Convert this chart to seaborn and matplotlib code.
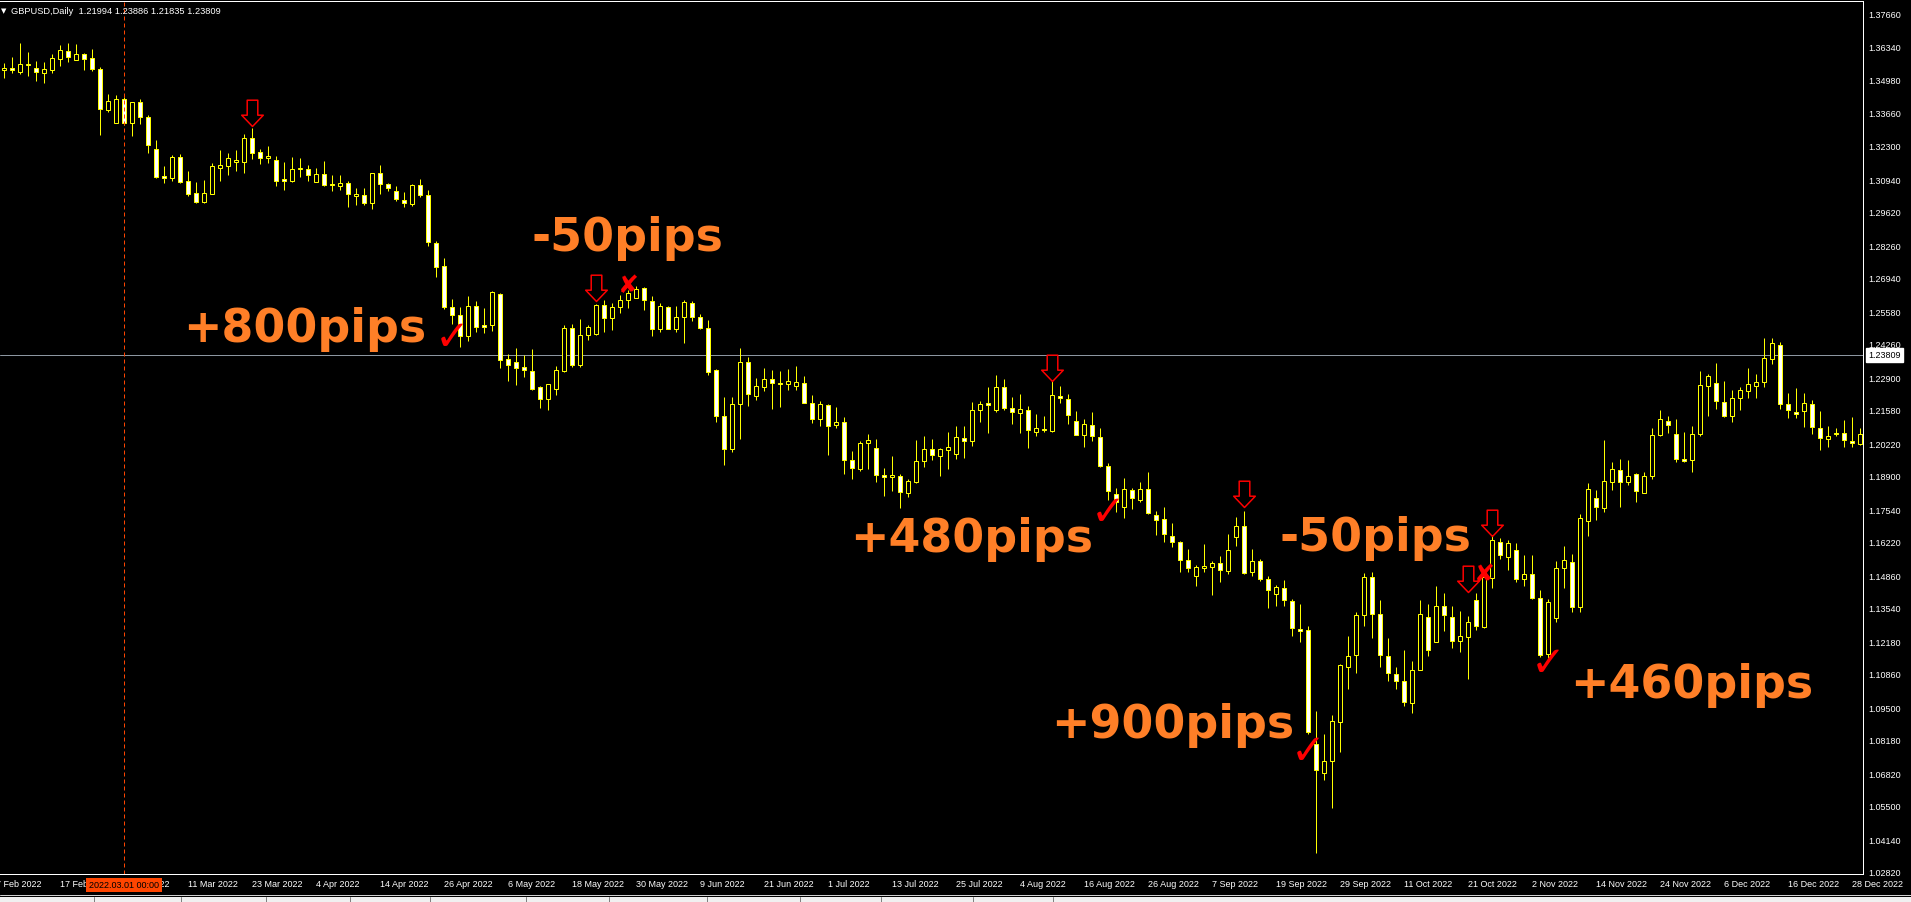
import matplotlib
matplotlib.use('Agg')
import matplotlib.pyplot as plt
from matplotlib.path import Path
from matplotlib.patches import Rectangle
from matplotlib.lines import Line2D
import numpy as np
import pandas as pd
import seaborn as sns

# GBPUSD daily bars, 8 Feb 2022 .. 29 Dec 2022
opens = [
    1.3537, 1.3546, 1.3532, 1.3558, 1.3546, 1.3526, 1.3540, 1.3584, 1.3615, 1.3580,
    1.3604, 1.3586, 1.3541, 1.3377, 1.3325, 1.3420, 1.3325, 1.3409, 1.3348, 1.3218,
    1.3108, 1.3101, 1.3185, 1.3087, 1.3038, 1.3004, 1.3036, 1.3142, 1.3150, 1.3166,
    1.3166, 1.3262, 1.3206, 1.3182, 1.3173, 1.3095, 1.3089, 1.3135, 1.3135, 1.3085,
    1.3115, 1.3076, 1.3069, 1.3080, 1.3026, 1.3031, 1.3000, 1.3120, 1.3076, 1.3047,
    1.3011, 1.2996, 1.3073, 1.3031, 1.2835, 1.2741, 1.2575, 1.2542, 1.2457, 1.2579,
    1.2502, 1.2502, 1.2627, 1.2363, 1.2351, 1.2331, 1.2315, 1.2250, 1.2201, 1.2242,
    1.2317, 1.2489, 1.2342, 1.2461, 1.2466, 1.2583, 1.2530, 1.2575, 1.2603, 1.2611,
    1.2652, 1.2599, 1.2485, 1.2575, 1.2488, 1.2534, 1.2591, 1.2534, 1.2489, 1.2320,
    1.2132, 1.1998, 1.2181, 1.2351, 1.2213, 1.2250, 1.2282, 1.2268, 1.2262, 1.2254,
    1.2266, 1.2185, 1.2122, 1.2177, 1.2098, 1.2108, 1.1956, 1.1919, 1.2022, 1.2002,
    1.1893, 1.1887, 1.1891, 1.1822, 1.1866, 1.1952, 1.1998, 1.1972, 1.1994, 1.1980,
    1.2043, 1.2030, 1.2156, 1.2185, 1.2156, 1.2250, 1.2164, 1.2144, 1.2156, 1.2067,
    1.2081, 1.2073, 1.2213, 1.2201, 1.2112, 1.2055, 1.2095, 1.2047, 1.1929, 1.1815,
    1.1765, 1.1831, 1.1791, 1.1835, 1.1732, 1.1714, 1.1647, 1.1623, 1.1547, 1.1482,
    1.1516, 1.1519, 1.1535, 1.1502, 1.1640, 1.1685, 1.1498, 1.1543, 1.1470, 1.1409,
    1.1433, 1.1380, 1.1267, 1.1263, 1.0800, 1.0682, 1.0730, 1.0889, 1.1112, 1.1161,
    1.1324, 1.1478, 1.1328, 1.1157, 1.1084, 1.1056, 1.0966, 1.1100, 1.1316, 1.1214,
    1.1360, 1.1316, 1.1218, 1.1234, 1.1384, 1.1275, 1.1474, 1.1620, 1.1559, 1.1588,
    1.1470, 1.1490, 1.1393, 1.1165, 1.1311, 1.1515, 1.1539, 1.1356, 1.1705, 1.1799,
    1.1758, 1.1864, 1.1913, 1.1864, 1.1896, 1.1819, 1.1888, 1.2055, 1.2112, 1.2059,
    1.1957, 1.1953, 1.2059, 1.2254, 1.2266, 1.2189, 1.2132, 1.2205, 1.2234, 1.2254,
    1.2270, 1.2363, 1.2420, 1.2181, 1.2148, 1.2152, 1.2181, 1.2083, 1.2038, 1.2063,
    1.2063, 1.2030, 1.2018]
highs = [
    1.3567, 1.3591, 1.3648, 1.3612, 1.3575, 1.3571, 1.3604, 1.3640, 1.3648, 1.3644,
    1.3608, 1.3624, 1.3552, 1.3441, 1.3437, 1.3429, 1.3409, 1.3421, 1.3356, 1.3254,
    1.3150, 1.3193, 1.3197, 1.3128, 1.3084, 1.3092, 1.3161, 1.3214, 1.3201, 1.3214,
    1.3279, 1.3303, 1.3218, 1.3230, 1.3189, 1.3165, 1.3185, 1.3181, 1.3153, 1.3141,
    1.3169, 1.3112, 1.3112, 1.3088, 1.3059, 1.3059, 1.3120, 1.3153, 1.3080, 1.3067,
    1.3043, 1.3077, 1.3096, 1.3051, 1.2845, 1.2774, 1.2608, 1.2575, 1.2619, 1.2600,
    1.2571, 1.2642, 1.2633, 1.2384, 1.2408, 1.2382, 1.2405, 1.2255, 1.2262, 1.2335,
    1.2502, 1.2507, 1.2526, 1.2502, 1.2587, 1.2604, 1.2592, 1.2626, 1.2646, 1.2662,
    1.2656, 1.2619, 1.2593, 1.2578, 1.2580, 1.2603, 1.2599, 1.2546, 1.2522, 1.2324,
    1.2209, 1.2209, 1.2409, 1.2373, 1.2286, 1.2327, 1.2320, 1.2315, 1.2324, 1.2335,
    1.2296, 1.2217, 1.2195, 1.2181, 1.2169, 1.2128, 1.1992, 1.2033, 1.2059, 1.2038,
    1.1921, 1.1969, 1.1898, 1.1877, 1.2034, 1.2051, 1.2040, 1.2004, 1.2067, 1.2091,
    1.2091, 1.2189, 1.2195, 1.2250, 1.2300, 1.2282, 1.2209, 1.2221, 1.2173, 1.2140,
    1.2132, 1.2277, 1.2254, 1.2221, 1.2152, 1.2120, 1.2148, 1.2083, 1.1941, 1.1840,
    1.1880, 1.1840, 1.1866, 1.1904, 1.1749, 1.1762, 1.1697, 1.1627, 1.1592, 1.1528,
    1.1613, 1.1543, 1.1563, 1.1654, 1.1723, 1.1747, 1.1593, 1.1551, 1.1482, 1.1445,
    1.1466, 1.1388, 1.1368, 1.1279, 1.0934, 1.0840, 1.0917, 1.1124, 1.1238, 1.1336,
    1.1494, 1.1498, 1.1384, 1.1230, 1.1112, 1.1181, 1.1137, 1.1384, 1.1368, 1.1441,
    1.1413, 1.1360, 1.1340, 1.1320, 1.1413, 1.1498, 1.1649, 1.1636, 1.1628, 1.1616,
    1.1567, 1.1567, 1.1425, 1.1388, 1.1543, 1.1604, 1.1571, 1.1734, 1.1860, 1.1831,
    1.2034, 1.1945, 1.1960, 1.1953, 1.1900, 1.1904, 1.2083, 1.2156, 1.2132, 1.2120,
    1.2067, 1.2091, 1.2315, 1.2302, 1.2347, 1.2274, 1.2238, 1.2250, 1.2327, 1.2302,
    1.2449, 1.2449, 1.2433, 1.2225, 1.2246, 1.2225, 1.2197, 1.2152, 1.2091, 1.2083,
    1.2116, 1.2128, 1.2083]
lows = [
    1.3506, 1.3526, 1.3522, 1.3515, 1.3495, 1.3486, 1.3526, 1.3556, 1.3572, 1.3578,
    1.3539, 1.3536, 1.3275, 1.3369, 1.3325, 1.3315, 1.3272, 1.3319, 1.3201, 1.3100,
    1.3080, 1.3089, 1.3080, 1.3028, 1.2998, 1.2998, 1.3036, 1.3089, 1.3113, 1.3130,
    1.3121, 1.3177, 1.3158, 1.3161, 1.3067, 1.3052, 1.3085, 1.3105, 1.3089, 1.3085,
    1.3069, 1.3048, 1.3052, 1.2983, 1.2991, 1.2991, 1.2975, 1.3036, 1.3048, 1.3008,
    1.2983, 1.2987, 1.3024, 1.2825, 1.2699, 1.2568, 1.2507, 1.2415, 1.2439, 1.2476,
    1.2471, 1.2480, 1.2327, 1.2277, 1.2260, 1.2293, 1.2240, 1.2167, 1.2159, 1.2220,
    1.2313, 1.2331, 1.2331, 1.2441, 1.2463, 1.2473, 1.2484, 1.2553, 1.2573, 1.2611,
    1.2563, 1.2459, 1.2476, 1.2485, 1.2476, 1.2431, 1.2518, 1.2488, 1.2301, 1.2107,
    1.1935, 1.1988, 1.2041, 1.2175, 1.2199, 1.2236, 1.2162, 1.2171, 1.2240, 1.2240,
    1.2185, 1.2106, 1.2094, 1.1976, 1.2086, 1.1899, 1.1879, 1.1911, 1.1919, 1.1866,
    1.1809, 1.1830, 1.1761, 1.1805, 1.1861, 1.1927, 1.1956, 1.1891, 1.1919, 1.1960,
    1.1964, 1.2012, 1.2107, 1.2065, 1.2148, 1.2159, 1.2102, 1.2065, 1.2004, 1.2051,
    1.2067, 1.2067, 1.2185, 1.2102, 1.2055, 1.2008, 1.2030, 1.1925, 1.1793, 1.1744,
    1.1720, 1.1757, 1.1783, 1.1736, 1.1651, 1.1623, 1.1602, 1.1501, 1.1499, 1.1444,
    1.1498, 1.1407, 1.1460, 1.1490, 1.1604, 1.1490, 1.1482, 1.1462, 1.1352, 1.1360,
    1.1360, 1.1238, 1.1214, 1.0840, 1.0357, 1.0653, 1.0542, 1.0767, 1.1025, 1.1088,
    1.1281, 1.1230, 1.1115, 1.1058, 1.1023, 1.0954, 1.0926, 1.1100, 1.1157, 1.1214,
    1.1259, 1.1190, 1.1173, 1.1064, 1.1263, 1.1271, 1.1433, 1.1551, 1.1506, 1.1458,
    1.1441, 1.1388, 1.1153, 1.1149, 1.1295, 1.1433, 1.1336, 1.1336, 1.1647, 1.1712,
    1.1742, 1.1834, 1.1765, 1.1854, 1.1783, 1.1819, 1.1876, 1.2051, 1.2063, 1.1945,
    1.1948, 1.1904, 1.2051, 1.2134, 1.2162, 1.2130, 1.2110, 1.2156, 1.2208, 1.2208,
    1.2250, 1.2343, 1.2160, 1.2124, 1.2124, 1.2087, 1.2059, 1.1994, 1.2006, 1.2051,
    1.2006, 1.2006, 1.2014]
closes = [
    1.3546, 1.3537, 1.3563, 1.3563, 1.3532, 1.3541, 1.3586, 1.3619, 1.3593, 1.3602,
    1.3584, 1.3543, 1.3379, 1.3411, 1.3420, 1.3325, 1.3409, 1.3349, 1.3235, 1.3105,
    1.3101, 1.3185, 1.3085, 1.3036, 1.3004, 1.3038, 1.3149, 1.3153, 1.3181, 1.3172,
    1.3262, 1.3203, 1.3182, 1.3189, 1.3089, 1.3089, 1.3135, 1.3141, 1.3113, 1.3115,
    1.3073, 1.3070, 1.3080, 1.3036, 1.3036, 1.3000, 1.3120, 1.3077, 1.3060, 1.3016,
    1.3000, 1.3073, 1.3032, 1.2839, 1.2740, 1.2575, 1.2545, 1.2459, 1.2579, 1.2493,
    1.2493, 1.2636, 1.2362, 1.2339, 1.2329, 1.2319, 1.2244, 1.2201, 1.2262, 1.2319,
    1.2489, 1.2342, 1.2461, 1.2493, 1.2583, 1.2530, 1.2575, 1.2604, 1.2633, 1.2650,
    1.2603, 1.2488, 1.2579, 1.2488, 1.2534, 1.2595, 1.2537, 1.2492, 1.2313, 1.2134,
    1.1998, 1.2181, 1.2351, 1.2221, 1.2254, 1.2282, 1.2266, 1.2262, 1.2274, 1.2270,
    1.2185, 1.2122, 1.2181, 1.2094, 1.2108, 1.1956, 1.1923, 1.2022, 1.2034, 1.1895,
    1.1887, 1.1893, 1.1826, 1.1868, 1.1952, 1.1998, 1.1976, 1.1998, 1.2006, 1.2047,
    1.2030, 1.2159, 1.2181, 1.2179, 1.2250, 1.2167, 1.2148, 1.2160, 1.2075, 1.2083,
    1.2077, 1.2217, 1.2205, 1.2138, 1.2055, 1.2099, 1.2051, 1.1931, 1.1827, 1.1783,
    1.1835, 1.1799, 1.1835, 1.1740, 1.1712, 1.1655, 1.1623, 1.1547, 1.1515, 1.1519,
    1.1523, 1.1535, 1.1506, 1.1588, 1.1685, 1.1494, 1.1543, 1.1470, 1.1425, 1.1437,
    1.1384, 1.1271, 1.1259, 1.0848, 1.0694, 1.0730, 1.0893, 1.1120, 1.1157, 1.1324,
    1.1478, 1.1328, 1.1161, 1.1088, 1.1056, 1.0970, 1.1100, 1.1328, 1.1181, 1.1360,
    1.1324, 1.1218, 1.1238, 1.1295, 1.1279, 1.1478, 1.1628, 1.1567, 1.1616, 1.1470,
    1.1490, 1.1393, 1.1161, 1.1376, 1.1515, 1.1547, 1.1356, 1.1719, 1.1835, 1.1762,
    1.1868, 1.1917, 1.1864, 1.1888, 1.1827, 1.1888, 1.2055, 1.2120, 1.2095, 1.1957,
    1.1952, 1.2059, 1.2258, 1.2294, 1.2193, 1.2134, 1.2205, 1.2238, 1.2262, 1.2270,
    1.2368, 1.2429, 1.2181, 1.2156, 1.2140, 1.2185, 1.2087, 1.2043, 1.2051, 1.2059,
    1.2034, 1.2022, 1.2059]

header = 'GBPUSD,Daily  1.21994 1.23886 1.21835 1.23809'
price_ticks = [1.37660, 1.36340, 1.34980, 1.33660, 1.32300, 1.30940, 1.29620,
               1.28260, 1.26940, 1.25580, 1.24260, 1.22900, 1.21580, 1.20220,
               1.18900, 1.17540, 1.16220, 1.14860, 1.13540, 1.12180, 1.10860,
               1.09500, 1.08180, 1.06820, 1.05500, 1.04140, 1.02820]
bid_price = 1.23809
cursor_bar = 15
cursor_label = '2022.03.01 00:00'

# trade annotations (bar index, price)
pip_labels = ['+800pips', '-50pips', '+480pips', '+900pips', '-50pips', '+460pips']
pip_label_bars = [22.4, 65.9, 105.8, 130.9, 159.4, 195.8]
pip_label_prices = [1.2438, 1.2807, 1.1584, 1.0828, 1.1589, 1.0990]
arrow_bars = [31, 74, 131, 155, 183, 186]
arrow_tips = [1.3311, 1.2600, 1.2275, 1.1765, 1.1418, 1.1646]
check_bars = [56.0, 138.0, 163.0, 193.0]
check_prices = [1.2454, 1.1745, 1.0772, 1.1130]
cross_bars = [78.1, 185.1]
cross_prices = [1.2667, 1.1491]

W, H, DPI = 1911, 903, 100
PX = 72 / DPI  # one pixel in points

sns.set_theme(style='dark', rc={'axes.facecolor': 'black', 'figure.facecolor': 'black',
                                'axes.edgecolor': 'white', 'axes.grid': False,
                                'xtick.color': 'white', 'ytick.color': 'white'})
plt.rcParams['font.family'] = ['Liberation Sans', 'DejaVu Sans']

df = pd.DataFrame({'Open': opens, 'High': highs, 'Low': lows, 'Close': closes})
df['Bar'] = np.arange(len(df))
days = pd.bdate_range('2022-02-07', periods=len(df) + 1)
df['Date'] = days[1:]
df['Bull'] = df['Close'] >= df['Open']

fig = plt.figure(figsize=(W / DPI, H / DPI), dpi=DPI)
ax = fig.add_axes([0, 28 / H, 1863 / W, 873 / H])

# candles: yellow wick + outline, white body when falling, black when rising
ax.vlines(df['Bar'], df['Low'], df['High'], color='#FFFF00', lw=PX, zorder=2, snap=True)
body_lo = df[['Open', 'Close']].min(axis=1)
body_h = (df['Close'] - df['Open']).abs().clip(lower=0.00002)
ax.bar(df['Bar'], body_h, bottom=body_lo, width=0.5,
       color=np.where(df['Bull'], 'black', 'white'),
       edgecolor='#FFFF00', linewidth=PX, zorder=3)

ax.axhline(bid_price, color='#8C96A0', lw=PX, zorder=1)
ax.axvline(cursor_bar, color='#FF4500', lw=PX, ls=(0, (4, 3)), zorder=4)

ax.set_xlim(-0.5, 232.375)
ax.set_ylim(1.027265, 1.381878)

# price axis
ax.yaxis.tick_right()
ax.set_yticks(price_ticks)
ax.set_yticklabels([f'{p:.5f}' for p in price_ticks])
ax.tick_params(axis='y', direction='out', length=3 * PX, width=PX, colors='white',
               labelsize=6.5, pad=2)

# date axis, a label every 8 bars
tick_bars = list(range(7, len(df), 8))
tick_labels = [f"{df['Date'][b].day} {df['Date'][b]:%b %Y}" for b in tick_bars]
ax.set_xticks(tick_bars)
ax.set_xticklabels(tick_labels, ha='left')
ax.tick_params(axis='x', direction='out', length=3.5 * PX, width=PX, colors='white',
               labelsize=6.5, pad=1)
first = days[0]
ax.annotate(f'{first.day} {first:%b %Y}', xy=(-1, 0), xycoords=('data', 'axes fraction'),
            xytext=(0, -3.5 * PX - 1), textcoords='offset points', ha='left', va='top',
            color='white', fontsize=6.5, annotation_clip=False)

sns.despine(ax=ax, left=True, top=False, right=False, bottom=False)
for side in ['top', 'right', 'bottom']:
    ax.spines[side].set_color('white')
    ax.spines[side].set_linewidth(PX)

# cursor date box
ax.annotate(cursor_label, xy=(cursor_bar, 0), xycoords=('data', 'axes fraction'),
            xytext=(0, -4.5), textcoords='offset points', ha='center', va='top',
            color='black', fontsize=6.5, annotation_clip=False, zorder=6,
            bbox=dict(boxstyle='square,pad=0.3', fc='#FF4500', ec='none'))

# bid price box
ax.annotate(f'{bid_price:.5f}', xy=(1, bid_price), xycoords=('axes fraction', 'data'),
            xytext=(5.5 * PX, 0), textcoords='offset points', ha='left', va='center',
            color='black', fontsize=6.5, annotation_clip=False, zorder=6,
            bbox=dict(boxstyle='square,pad=0.25', fc='white', ec='white'))

# header
fig.text(0.5 / W, 1 - 11 / H, '\u25bc', color='white', fontsize=5, va='center',
         family=['DejaVu Sans'])
fig.text(11 / W, 1 - 11 / H, header, color='white', fontsize=6.7, va='center')

# result labels
for s, b, p in zip(pip_labels, pip_label_bars, pip_label_prices):
    ax.text(b, p, s, color='#FF7F27', fontsize=33, fontweight='bold',
            family=['DejaVu Sans'], ha='left', va='baseline', zorder=5)

# entry arrows (hollow, tip at the given price)
arrow = Path([(0, 0), (10.8, 11.3), (5.3, 11.3), (5.3, 26.3), (-5.3, 26.3),
              (-5.3, 11.3), (-10.8, 11.3), (0, 0)], closed=True)
ax.plot(arrow_bars, arrow_tips, ls='none', marker=arrow, markersize=2 * 26.3 * PX,
        mfc='none', mec='#FF0000', mew=1.5 * PX, zorder=6)

for b, p in zip(check_bars, check_prices):
    ax.text(b, p, '\u2713', color='#FF0000', fontsize=30, fontweight='bold',
            family=['DejaVu Sans'], ha='center', va='center', zorder=6)
for b, p in zip(cross_bars, cross_prices):
    ax.text(b, p, '\u2718', color='#FF0000', fontsize=18,
            family=['DejaVu Sans'], ha='center', va='center', zorder=6)

# terminal tab strip at the very bottom
fig.add_artist(Line2D([0, 1], [1 - 896 / H] * 2, transform=fig.transFigure,
                      color='#D0D0D0', lw=PX))
fig.add_artist(Rectangle((0, 0), 1, 5 / H, transform=fig.transFigure,
                         fc='#F0F0F0', ec='none'))
for sx in [94, 181, 266, 350, 430, 526, 609, 707, 800, 881, 973, 1053]:
    fig.add_artist(Line2D([sx / W] * 2, [0, 5 / H], transform=fig.transFigure,
                          color='#808080', lw=PX))

fig.savefig('out.png', dpi=DPI, facecolor='black')
